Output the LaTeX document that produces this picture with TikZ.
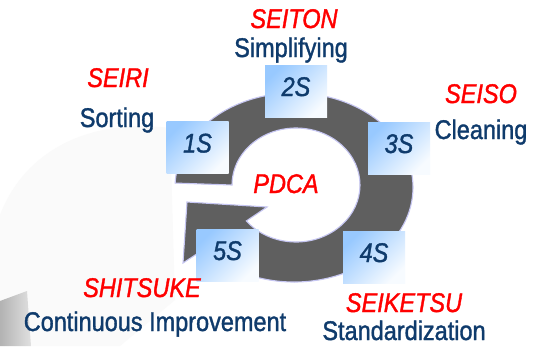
\documentclass[tikz,border=0pt]{standalone}
\usepackage{fontspec}
\setmainfont{Liberation Sans}
\newfontfamily\lblfont[FakeStretch=0.87, FakeBold=1.3]{Liberation Sans}
\usetikzlibrary{calc}
\definecolor{navy}{HTML}{0F3B6C}
\definecolor{ringgray}{HTML}{5F5F5F}
\definecolor{ringedge}{HTML}{C6C6F2}
\definecolor{boxblue}{HTML}{98C9FF}
\definecolor{boxwhite}{HTML}{F7FBFF}
\tikzset{
  base/.style={font=\lblfont\fontsize{27}{30}\selectfont, inner sep=0pt, anchor=base},
  sname/.style={base, text=red, font=\lblfont\fontsize{27}{30}\selectfont\itshape},
  sword/.style={base, text=navy},
  sbox/.style={minimum width=62pt, minimum height=52pt, inner sep=0pt,
    shading=axis, top color=boxblue, bottom color=boxwhite, shading angle=45,
    text=navy, font=\lblfont\fontsize{27}{30}\selectfont\itshape,
    text height=20pt, text depth=10pt},
  ring/.style={fill=ringgray, draw=ringedge, line width=1.1pt, line join=miter}
}
\begin{document}
\begin{tikzpicture}[x=1pt,y=-1pt]
\useasboundingbox (0,0) rectangle (537,346);
\fill[white] (0,0) rectangle (537,346);

% faint backdrop on the left
\fill[black!2] (0,346) -- (0,215) .. controls (25,150) and (90,118) .. (170,128)
  -- (175,300) -- (120,346) -- cycle;
\shade[left color=black!30, right color=black!12] (0,301) -- (27,291) -- (31,346) -- (0,346) -- cycle;

% circular arrow
\coordinate (oc) at (294,187.5);
\coordinate (ic) at (296,185);
\coordinate (wingout) at (183,263);
\coordinate (tip) at (187,202);
\coordinate (wingin) at (267,207);
\path[ring] ([shift={(oc)}]182.7:119 and 94.5)
  arc[start angle=182.7, end angle=499.2, x radius=119, y radius=94.5]
  -- (wingout) -- (tip) -- (wingin)
  -- ([shift={(ic)}]140.9:64 and 57)
  arc[start angle=500.9, end angle=180, x radius=64, y radius=57]
  -- cycle;

% step boxes
\node[sbox] (s1) at (197.5,147.5) {1S};
\node[sbox] (s2) at (296,91) {2S};
\node[sbox] (s3) at (399,148) {3S};
\node[sbox] (s4) at (374,257) {4S};
\node[sbox] (s5) at (227.5,255) {5S};

% labels
\node[sname] (pdca) at (286,193) {PDCA};
\node[sname] (seiton) at (294,28) {SEITON};
\node[sword] (simp) at (291,57) {Simplifying};
\node[sname] (seiri) at (118,87) {SEIRI};
\node[sword] (sort) at (117,127) {Sorting};
\node[sname] (seiso) at (481,103) {SEISO};
\node[sword] (clean) at (481,139) {Cleaning};
\node[sname] (shitsuke) at (142,297) {SHITSUKE};
\node[sword] (cont) at (155,331) {Continuous Improvement};
\node[sname] (seiketsu) at (404,312) {SEIKETSU};
\node[sword] (std) at (404,340) {Standardization};
\end{tikzpicture}
\end{document}
